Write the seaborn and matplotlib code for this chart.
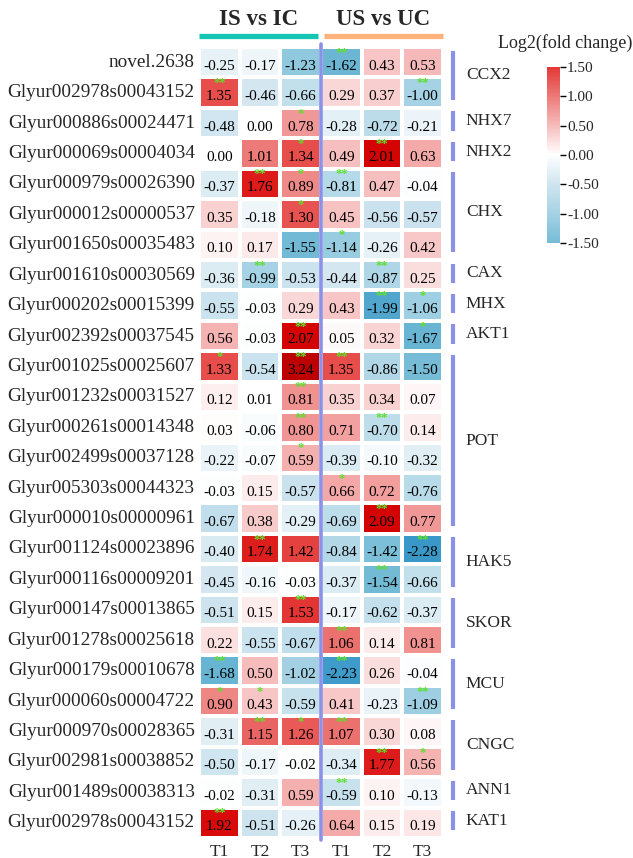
import numpy as np
import pandas as pd
import seaborn as sns
import matplotlib
matplotlib.use("Agg")
import matplotlib.pyplot as plt
from matplotlib.colors import LinearSegmentedColormap
from matplotlib.transforms import blended_transform_factory

# ---------------- data ----------------
genes = [
    "novel.2638", "Glyur002978s00043152", "Glyur000886s00024471", "Glyur000069s00004034",
    "Glyur000979s00026390", "Glyur000012s00000537", "Glyur001650s00035483", "Glyur001610s00030569",
    "Glyur000202s00015399", "Glyur002392s00037545", "Glyur001025s00025607", "Glyur001232s00031527",
    "Glyur000261s00014348", "Glyur002499s00037128", "Glyur005303s00044323", "Glyur000010s00000961",
    "Glyur001124s00023896", "Glyur000116s00009201", "Glyur000147s00013865", "Glyur001278s00025618",
    "Glyur000179s00010678", "Glyur000060s00004722", "Glyur000970s00028365", "Glyur002981s00038852",
    "Glyur001489s00038313", "Glyur002978s00043152 ",
]
comparisons = ["IS vs IC", "US vs UC"]
times = ["T1", "T2", "T3"]

is_t1 = [-0.25, 1.35, -0.48, 0.00, -0.37, 0.35, 0.10, -0.36, -0.55, 0.56, 1.33, 0.12, 0.03,
         -0.22, -0.03, -0.67, -0.40, -0.45, -0.51, 0.22, -1.68, 0.90, -0.31, -0.50, -0.02, 1.92]
is_t2 = [-0.17, -0.46, 0.00, 1.01, 1.76, -0.18, 0.17, -0.99, -0.03, -0.03, -0.54, 0.01, -0.06,
         -0.07, 0.15, 0.38, 1.74, -0.16, 0.15, -0.55, 0.50, 0.43, 1.15, -0.17, -0.31, -0.51]
is_t3 = [-1.23, -0.66, 0.78, 1.34, 0.89, 1.30, -1.55, -0.53, 0.29, 2.07, 3.24, 0.81, 0.80,
         0.59, -0.57, -0.29, 1.42, -0.03, 1.53, -0.67, -1.02, -0.59, 1.26, -0.02, 0.59, -0.26]
us_t1 = [-1.62, 0.29, -0.28, 0.49, -0.81, 0.45, -1.14, -0.44, 0.43, 0.05, 1.35, 0.35, 0.71,
         -0.39, 0.66, -0.69, -0.84, -0.37, -0.17, 1.06, -2.23, 0.41, 1.07, -0.34, -0.59, 0.64]
us_t2 = [0.43, 0.37, -0.72, 2.01, 0.47, -0.56, -0.26, -0.87, -1.99, 0.32, -0.86, 0.34, -0.70,
         -0.10, 0.72, 2.09, -1.42, -1.54, -0.62, 0.14, 0.26, -0.23, 0.30, 1.77, 0.10, 0.15]
us_t3 = [0.53, -1.00, -0.21, 0.63, -0.04, -0.57, 0.42, 0.25, -1.06, -1.67, -1.50, 0.07, 0.14,
         -0.32, -0.76, 0.77, -2.28, -0.66, -0.37, 0.81, -0.04, -1.09, 0.08, 0.56, -0.13, 0.19]

is_sig_t1 = ["", "**", "", "", "", "", "", "", "", "", "*", "", "", "", "", "", "", "", "", "", "**", "*", "", "", "", "**"]
is_sig_t2 = ["", "", "", "", "**", "", "", "**", "", "", "", "", "", "", "", "", "**", "", "", "", "", "*", "**", "", "", ""]
is_sig_t3 = ["", "", "*", "*", "*", "*", "", "", "", "**", "**", "**", "**", "*", "", "", "", "", "**", "", "", "", "*", "", "", ""]
us_sig_t1 = ["**", "", "", "", "**", "", "*", "", "", "", "**", "", "", "", "*", "", "", "", "", "**", "**", "", "**", "", "**", ""]
us_sig_t2 = ["", "", "", "**", "", "", "", "**", "**", "", "", "", "**", "", "", "**", "", "**", "", "", "", "", "", "**", "", ""]
us_sig_t3 = ["", "**", "", "", "", "", "", "", "*", "*", "", "", "", "", "", "", "**", "", "", "", "", "**", "", "*", "", ""]

family_names = ["CCX2", "NHX7", "NHX2", "CHX", "CAX", "MHX", "AKT1", "POT",
                "HAK5", "SKOR", "MCU", "CNGC", "ANN1", "KAT1"]
family_first = [0, 2, 3, 4, 7, 8, 9, 10, 16, 18, 20, 22, 24, 25]
family_last = [1, 2, 3, 6, 7, 8, 9, 15, 17, 19, 21, 23, 24, 25]

cbar_ticks = [1.5, 1.0, 0.5, 0.0, -0.5, -1.0, -1.5]

# ---------------- style ----------------
sns.set_theme(style="white")
plt.rcParams["font.family"] = ["Liberation Serif", "DejaVu Serif"]

values = np.column_stack([is_t1, is_t2, is_t3, us_t1, us_t2, us_t3])
sigs = np.column_stack([is_sig_t1, is_sig_t2, is_sig_t3, us_sig_t1, us_sig_t2, us_sig_t3])
col_labels = times + times
df = pd.DataFrame(values, index=genes, columns=[f"{c}_{t}" for c in comparisons for t in times])

vmin, vmax = -2.5, 3.3
anchors = [
    (-2.5, (40, 138, 192)),
    (-2.25, (62, 155, 202)),
    (-1.5, (118, 188, 214)),
    (-1.0, (165, 210, 228)),
    (-0.5, (207, 229, 239)),
    (0.0, (255, 255, 255)),
    (0.5, (246, 188, 188)),
    (1.0, (236, 122, 120)),
    (1.5, (228, 56, 54)),
    (2.0, (214, 4, 4)),
    (3.3, (188, 0, 0)),
]
cmap = LinearSegmentedColormap.from_list(
    "fc", [((v - vmin) / (vmax - vmin), tuple(c / 255 for c in rgb)) for v, rgb in anchors])

fig = plt.figure(figsize=(6.33, 8.58), dpi=100)
W, H = 633, 858
hx0, hx1, hy0, hy1 = 199, 443, 47, 838
ax = fig.add_axes([hx0 / W, 1 - hy1 / H, (hx1 - hx0) / W, (hy1 - hy0) / H])
cax = fig.add_axes([547 / W, 1 - 243 / H, 13 / W, 176 / H])

sns.heatmap(df, ax=ax, cmap=cmap, vmin=vmin, vmax=vmax, linewidths=1.6, linecolor="white",
            cbar=True, cbar_ax=cax, xticklabels=col_labels, yticklabels=genes)

nr, nc = values.shape
for i in range(nr):
    for j in range(nc):
        ax.text(j + 0.5, i + 0.63, f"{values[i, j]:.2f}", ha="center", va="center",
                fontsize=11, color="black")
        if sigs[i, j]:
            ax.text(j + 0.5, i + 0.19, sigs[i, j], ha="center", va="center",
                    fontsize=9, color="#5ee02a", fontweight="bold")

ax.tick_params(axis="both", length=0)
ax.set_xlabel("")
ax.set_ylabel("")
ax.set_yticklabels([g.strip() for g in genes], rotation=0, fontsize=13.9)
ax.set_xticklabels(col_labels, rotation=0, fontsize=12.5)
ax.tick_params(axis="y", pad=3)
ax.tick_params(axis="x", pad=4)

# separator between comparisons
ax.axvline(3, color="#8b90e8", lw=2.6, ymin=-0.002, ymax=1.004, clip_on=False)

# headers with coloured underline
bt = blended_transform_factory(ax.transData, ax.transAxes)
header_colors = ["#16c4b3", "#ffb27a"]
for k, name in enumerate(comparisons):
    x0 = 3 * k + (0.0 if k == 0 else 0.07)
    x1 = 3 * k + (2.93 if k == 0 else 3.0)
    ax.text((x0 + x1) / 2, 1.035, name, transform=bt, ha="center", va="center",
            fontsize=16.5, fontweight="bold")
    ax.plot([x0, x1], [1.0145, 1.0145], transform=bt, color=header_colors[k], lw=3.8,
            solid_capstyle="butt", clip_on=False)

# family bars and labels
bt2 = blended_transform_factory(ax.transAxes, ax.transData)
for name, a, b in zip(family_names, family_first, family_last):
    y0, y1 = a + 0.12, b + 1 - 0.25
    ax.plot([1.043, 1.043], [y0, y1], transform=bt2, color="#8b90e8", lw=3,
            solid_capstyle="butt", clip_on=False)
    ax.text(1.094, (y0 + y1) / 2, name, transform=bt2, ha="left", va="center", fontsize=12.5)

# colorbar
cax.set_ylim(-1.5, 1.5)
cax.set_yticks(cbar_ticks)
cax.set_yticklabels([f"{t:.2f}" for t in cbar_ticks], fontsize=11)
cax.tick_params(axis="y", length=4, width=1, color="black", pad=1, right=True)
for s in cax.spines.values():
    s.set_visible(False)
try:
    ax.collections[0].colorbar.outline.set_visible(False)
except Exception:
    pass
fig.text(565 / W, 1 - 43 / H, "Log2(fold change)", ha="center", va="center", fontsize=13)

fig.savefig("out.png", dpi=100, facecolor="white")
